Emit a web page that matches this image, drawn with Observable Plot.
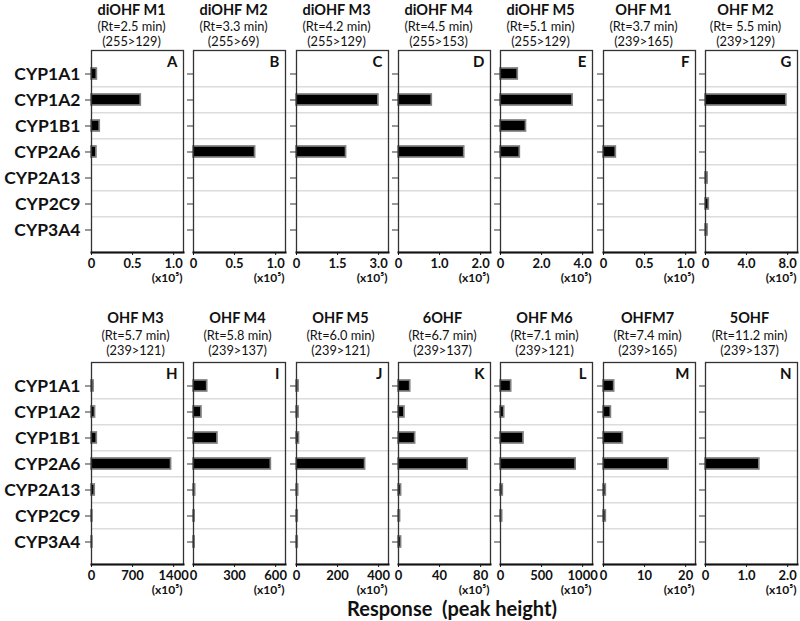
<!DOCTYPE html>
<html><head><meta charset="utf-8">
<script src="https://cdn.jsdelivr.net/npm/d3@7"></script>
<script src="https://cdn.jsdelivr.net/npm/@observablehq/plot@0.6"></script>
<style>
body{margin:0;background:#fff;}
#chart{position:relative;width:800px;height:621px;font-family:Lato,sans-serif;overflow:hidden;}
.panel{position:absolute;}
#xlabel{position:absolute;top:597px;left:252px;width:400px;text-align:center;font-weight:bold;font-size:20px;line-height:22px;white-space:pre;color:#111;}
</style></head><body><div id="chart"><div id="xlabel">Response  (peak height)</div></div>
<script>
const cyps = ["CYP1A1","CYP1A2","CYP1B1","CYP2A6","CYP2A13","CYP2C9","CYP3A4"];
const panelNames = ["diOHF M1","diOHF M2","diOHF M3","diOHF M4","diOHF M5","OHF M1","OHF M2",
                    "OHF M3","OHF M4","OHF M5","6OHF","OHF M6","OHFM7","5OHF"];
const retention = ["(Rt=2.5 min)","(Rt=3.3 min)","(Rt=4.2 min)","(Rt=4.5 min)","(Rt=5.1 min)","(Rt=3.7 min)","(Rt= 5.5 min)",
                   "(Rt=5.7 min)","(Rt=5.8 min)","(Rt=6.0 min)","(Rt=6.7 min)","(Rt=7.1 min)","(Rt=7.4 min)","(Rt=11.2 min)"];
const transitions = ["(255>129)","(255>69)","(255>129)","(255>153)","(255>129)","(239>165)","(239>129)",
                     "(239>121)","(239>137)","(239>121)","(239>137)","(239>121)","(239>165)","(239>137)"];
const letters = ["A","B","C","D","E","F","G","H","I","J","K","L","M","N"];
const tickValues = [[0,0.5,1.0],[0,0.5,1.0],[0,1.5,3.0],[0,1.0,2.0],[0,2.0,4.0],[0,0.5,1.0],[0,4.0,8.0],
                    [0,700,1400],[0,300,600],[0,200,400],[0,40,80],[0,500,1000],[0,10,20],[0,1.0,2.0]];
const tickLabels = [["0","0.5","1.0"],["0","0.5","1.0"],["0","1.5","3.0"],["0","1.0","2.0"],["0","2.0","4.0"],["0","0.5","1.0"],["0","4.0","8.0"],
                    ["0","700","1400"],["0","300","600"],["0","200","400"],["0","40","80"],["0","500","1000"],["0","10","20"],["0","1.0","2.0"]];
const unitLabel = "(x10\u2075)";
// responses (x10^5), in the order of cyps
const diOHF_M1 = [0.065, 0.60, 0.10, 0.06, 0, 0, 0];
const diOHF_M2 = [0, 0, 0, 0.75, 0, 0, 0];
const diOHF_M3 = [0, 2.99, 0, 1.81, 0, 0, 0];
const diOHF_M4 = [0, 0.81, 0, 1.60, 0, 0, 0];
const diOHF_M5 = [0.84, 3.51, 1.24, 0.94, 0, 0, 0];
const OHF_M1 = [0, 0, 0, 0.15, 0, 0, 0];
const OHF_M2 = [0, 7.87, 0, 0, 0.2, 0.32, 0.2];
const OHF_M3 = [35, 60, 90, 1356, 55, 15, 15];
const OHF_M4 = [100, 58, 175, 565, 12, 8, 8];
const OHF_M5 = [10, 10, 12, 334, 8, 6, 6];
const OHF_6 = [11.4, 5.8, 16.2, 67.4, 2.5, 1.5, 2.5];
const OHF_M6 = [130, 45, 280, 915, 28, 20, 0];
const OHF_M7 = [2.6, 1.8, 4.7, 15.8, 0.56, 0.56, 0];
const OHF_5 = [0, 0, 0, 1.31, 0, 0, 0];
const responses = [diOHF_M1, diOHF_M2, diOHF_M3, diOHF_M4, diOHF_M5, OHF_M1, OHF_M2,
                   OHF_M3, OHF_M4, OHF_M5, OHF_6, OHF_M6, OHF_M7, OHF_5];

// layout
const frameW = 92, colStep = 102.3, frameH = 202;
const rowFrameTop = [50, 362];
const titleDy = [[-40, -24, -9], [-44, -27, -12]];
const titleDx = [-6, -2];
const mTop = 50, mBottom = 42;
const pInner = 0.59, pOuter = 0.605;
const step = frameH / (cyps.length - pInner + 2 * pOuter);

const chart = document.getElementById("chart");
responses.forEach((vals, p) => {
  const row = Math.floor(p / 7), col = p % 7;
  const frameLeft = 91 + col * colStep;
  const mLeft = col === 0 ? 91 : 10;
  const mRight = 10.3;
  const data = cyps.map((c, i) => ({cyp: c, v: vals[i]}));
  const ticks = tickValues[p], labels = tickLabels[p];
  const svg = Plot.plot({
    width: mLeft + frameW + mRight,
    height: mTop + frameH + mBottom,
    marginLeft: mLeft, marginRight: mRight, marginTop: mTop, marginBottom: mBottom,
    style: {background: "transparent", overflow: "visible", fontFamily: "Lato, sans-serif", color: "#111"},
    x: {domain: [0, ticks[2] * 1.12]},
    y: {domain: cyps, paddingInner: pInner, paddingOuter: pOuter},
    marks: [
      Plot.ruleY(cyps.slice(1), {y: d => d, dy: -step / 2, stroke: "#dcdcdc", strokeWidth: 1.5,
        insetRight: col === 6 ? 0 : -mRight}),
      Plot.barX(data.filter(d => d.v > 0), {x: "v", y: "cyp", fill: "#000", stroke: "#808080", strokeWidth: 1.7}),
      Plot.frame({stroke: "#333", strokeWidth: 1.3}),
      Plot.frame({anchor: "bottom", stroke: "#111", strokeWidth: 2}),
      Plot.axisY({tickSize: 6, tickPadding: 5, label: null, stroke: "#333",
        tickFormat: col === 0 ? (d => d) : (() => ""), fontSize: 17.5, fontWeight: "bold"}),
      Plot.axisX(ticks, {tickSize: 3, tickPadding: 3, label: null, stroke: "#111",
        tickFormat: d => labels[ticks.indexOf(d)], fontSize: 13, fontWeight: "bold"}),
      Plot.text([unitLabel], {frameAnchor: "bottom-right", dy: 26, dx: -1, textAnchor: "end", lineAnchor: "middle",
        fontSize: 12, fontWeight: "bold"}),
      Plot.text([letters[p]], {frameAnchor: "top-right", dx: -6, dy: 6, textAnchor: "end", lineAnchor: "top",
        fontSize: 15, fontWeight: "bold"}),
      Plot.text([panelNames[p]], {frameAnchor: "top", dx: titleDx[row], dy: titleDy[row][0], lineAnchor: "middle",
        fontSize: 14.5, fontWeight: "bold"}),
      Plot.text([retention[p]], {frameAnchor: "top", dx: titleDx[row], dy: titleDy[row][1], lineAnchor: "middle",
        fontSize: 12.8}),
      Plot.text([transitions[p]], {frameAnchor: "top", dx: titleDx[row], dy: titleDy[row][2], lineAnchor: "middle",
        fontSize: 12.8})
    ]
  });
  svg.classList.add("panel");
  svg.style.left = (frameLeft - mLeft) + "px";
  svg.style.top = (rowFrameTop[row] - mTop) + "px";
  chart.appendChild(svg);
});
</script>
</body></html>
